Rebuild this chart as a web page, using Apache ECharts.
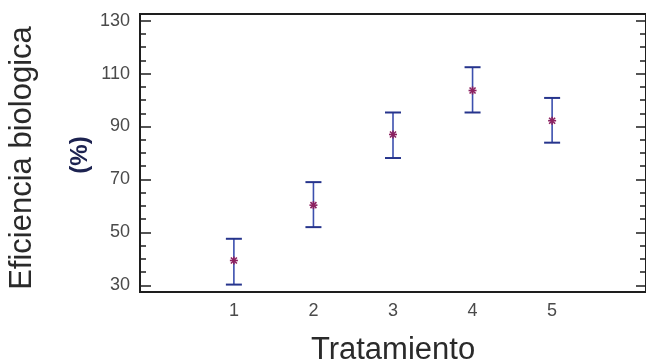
<!DOCTYPE html>
<html>
<head>
<meta charset="utf-8">
<script src="https://cdn.jsdelivr.net/npm/echarts@6.0.0/dist/echarts.min.js"></script>
<style>
  html, body { margin: 0; padding: 0; background: #ffffff; }
  #chart { width: 646px; height: 363px; }
</style>
</head>
<body>
<div id="chart"></div>
<script>
// Treatments and biological efficiency (%) with interval limits
const treatments = [1, 2, 3, 4, 5];
const means = [39.4, 60.3, 87.0, 103.6, 92.2];
const lower = [30.3, 52.0, 78.1, 95.3, 83.9];
const upper = [47.6, 69.0, 95.3, 112.4, 100.8];

const yMajorTicks = [30, 50, 70, 90, 110, 130];
const yMinorTicks = [];
for (let v = 30; v <= 130; v += 5) yMinorTicks.push(v);
const xTickLabels = [1, 2, 3, 4, 5];

const Y_MIN = 27.5, Y_MAX = 132.5;
const FONT = 'Liberation Sans, Arial, sans-serif';

const chart = echarts.init(document.getElementById('chart'), null, { renderer: 'canvas' });

const rows = treatments.map((t, i) => [t, means[i], lower[i], upper[i]]);

function yAxisBase(extra) {
  return Object.assign({
    type: 'value',
    min: Y_MIN,
    max: Y_MAX,
    offset: 0,
    axisLine: { show: false, onZero: false },
    splitLine: { show: false },
    axisLabel: { show: false },
    axisTick: { show: false }
  }, extra);
}

const option = {
  backgroundColor: '#ffffff',
  animation: false,
  grid: {
    left: 140, top: 14, right: -1, bottom: 71,
    show: true,
    borderColor: '#1e1e1e',
    borderWidth: 2,
    backgroundColor: 'transparent'
  },
  xAxis: {
    type: 'value',
    min: -0.18,
    max: 6.18,
    axisLine: { show: false, onZero: false },
    splitLine: { show: false },
    axisTick: { show: false },
    axisLabel: {
      customValues: xTickLabels,
      fontFamily: FONT,
      fontSize: 18,
      color: '#4a4a4a',
      margin: 10
    }
  },
  yAxis: [
    // labelled major ticks (left)
    yAxisBase({
      position: 'left',
      axisTick: {
        show: true, inside: true, length: 11, customValues: yMajorTicks,
        lineStyle: { color: '#1e1e1e', width: 1.5 }
      },
      axisLabel: {
        show: true, customValues: yMajorTicks,
        fontFamily: FONT, fontSize: 18, color: '#4a4a4a', margin: 10
      }
    }),
    // minor ticks (left)
    yAxisBase({
      position: 'left',
      axisTick: {
        show: true, inside: true, length: 6, customValues: yMinorTicks,
        lineStyle: { color: '#1e1e1e', width: 1.5 }
      }
    }),
    // major ticks (right)
    yAxisBase({
      position: 'right',
      axisTick: {
        show: true, inside: true, length: 10, customValues: yMajorTicks,
        lineStyle: { color: '#1e1e1e', width: 1.5 }
      }
    }),
    // minor ticks (right)
    yAxisBase({
      position: 'right',
      axisTick: {
        show: true, inside: true, length: 6, customValues: yMinorTicks,
        lineStyle: { color: '#1e1e1e', width: 1.5 }
      }
    })
  ],
  graphic: [
    {
      type: 'text',
      x: 22, y: 158,
      rotation: Math.PI / 2,
      style: {
        text: 'Eficiencia biologica',
        font: '31px ' + FONT,
        fill: '#2a2a2a',
        align: 'center',
        verticalAlign: 'middle'
      }
    },
    {
      type: 'text',
      x: 80, y: 155,
      rotation: Math.PI / 2,
      style: {
        text: '(%)',
        font: 'bold 24px ' + FONT,
        fill: '#1c2250',
        align: 'center',
        verticalAlign: 'middle'
      }
    },
    {
      type: 'text',
      x: 393, y: 350,
      style: {
        text: 'Tratamiento',
        font: '31px ' + FONT,
        fill: '#2a2a2a',
        align: 'center',
        verticalAlign: 'middle'
      }
    }
  ],
  series: [
    {
      type: 'custom',
      xAxisIndex: 0,
      yAxisIndex: 0,
      data: rows,
      encode: { x: 0, y: [1, 2, 3] },
      renderItem: function (params, api) {
        const x = api.value(0);
        const pMid = api.coord([x, api.value(1)]);
        const pLo = api.coord([x, api.value(2)]);
        const pHi = api.coord([x, api.value(3)]);
        const cap = 8;
        const r = 4;
        const barStyle = { stroke: '#3b4fae', lineWidth: 1.6 };
        const capStyle = { stroke: '#26348c', lineWidth: 2 };
        const starStyle = { stroke: '#8c2160', lineWidth: 1.6 };
        const cx = pMid[0], cy = pMid[1];
        return {
          type: 'group',
          children: [
            { type: 'line', shape: { x1: pLo[0], y1: pLo[1], x2: pHi[0], y2: pHi[1] }, style: barStyle },
            { type: 'line', shape: { x1: pHi[0] - cap, y1: pHi[1], x2: pHi[0] + cap, y2: pHi[1] }, style: capStyle },
            { type: 'line', shape: { x1: pLo[0] - cap, y1: pLo[1], x2: pLo[0] + cap, y2: pLo[1] }, style: capStyle },
            { type: 'line', shape: { x1: cx - r, y1: cy, x2: cx + r, y2: cy }, style: starStyle },
            { type: 'line', shape: { x1: cx, y1: cy - r, x2: cx, y2: cy + r }, style: starStyle },
            { type: 'line', shape: { x1: cx - r * 0.75, y1: cy - r * 0.75, x2: cx + r * 0.75, y2: cy + r * 0.75 }, style: starStyle },
            { type: 'line', shape: { x1: cx - r * 0.75, y1: cy + r * 0.75, x2: cx + r * 0.75, y2: cy - r * 0.75 }, style: starStyle }
          ]
        };
      }
    }
  ]
};

chart.setOption(option);
</script>
</body>
</html>
